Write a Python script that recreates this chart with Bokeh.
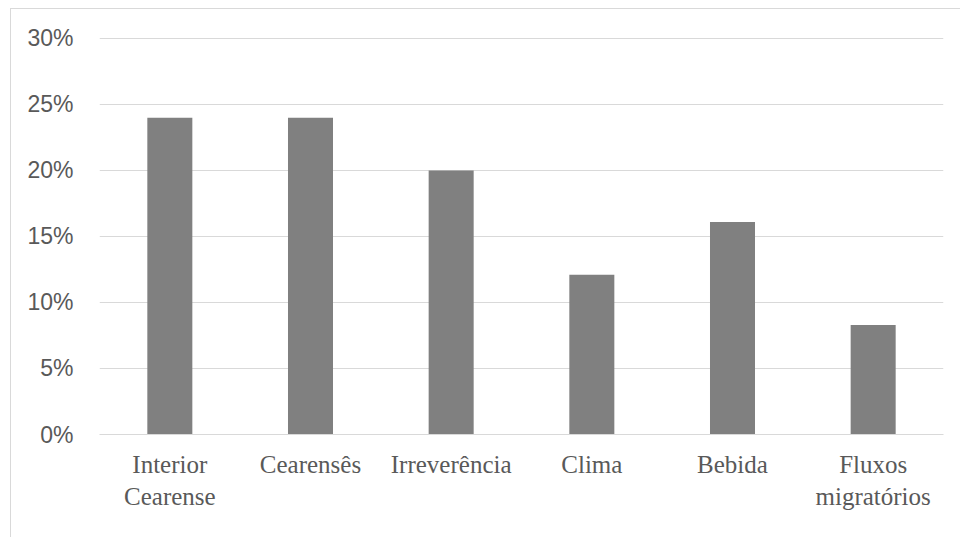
from bokeh.plotting import figure
from bokeh.models import ColumnDataSource, NumeralTickFormatter, FixedTicker, Range1d
from bokeh.embed import file_html
from bokeh.resources import INLINE

categories = ["Interior\nCearense", "Cearensês", "Irreverência", "Clima", "Bebida", "Fluxos\nmigratórios"]
values = [0.24, 0.24, 0.20, 0.121, 0.161, 0.083]
y_ticks = [0.0, 0.05, 0.10, 0.15, 0.20, 0.25, 0.30]

src = ColumnDataSource(dict(cat=categories, val=values))

p = figure(x_range=categories, y_range=Range1d(0, 0.3015), width=950, height=529,
           output_backend="svg", toolbar_location=None,
           min_border_left=88, min_border_right=18, min_border_top=27, min_border_bottom=104)
p.margin = (8, 0, 0, 10)
p.styles = {"border-left": "1px solid #d9d9d9", "border-top": "1px solid #d9d9d9"}

p.vbar(x="cat", top="val", width=0.32, source=src, fill_color="#808080", line_color=None)

p.outline_line_color = None
p.xgrid.grid_line_color = None
p.ygrid.grid_line_color = "#d9d9d9"
p.ygrid.grid_line_width = 1
p.yaxis.ticker = FixedTicker(ticks=y_ticks)
p.yaxis.formatter = NumeralTickFormatter(format="0%")

for ax in (p.xaxis, p.yaxis):
    ax.axis_line_color = None
    ax.major_tick_line_color = None
    ax.minor_tick_line_color = None
    ax.major_label_text_color = "#595959"

xax = p.xaxis[0]
yax = p.yaxis[0]
xax.axis_line_color = "#d9d9d9"
yax.major_label_text_font = "Liberation Sans"
yax.major_label_text_font_size = "23px"
yax.major_label_standoff = 20
xax.major_label_text_font = "Liberation Serif"
xax.major_label_text_font_size = "25px"
xax.major_label_standoff = 10

open("out.html", "w").write(file_html(p, INLINE))
